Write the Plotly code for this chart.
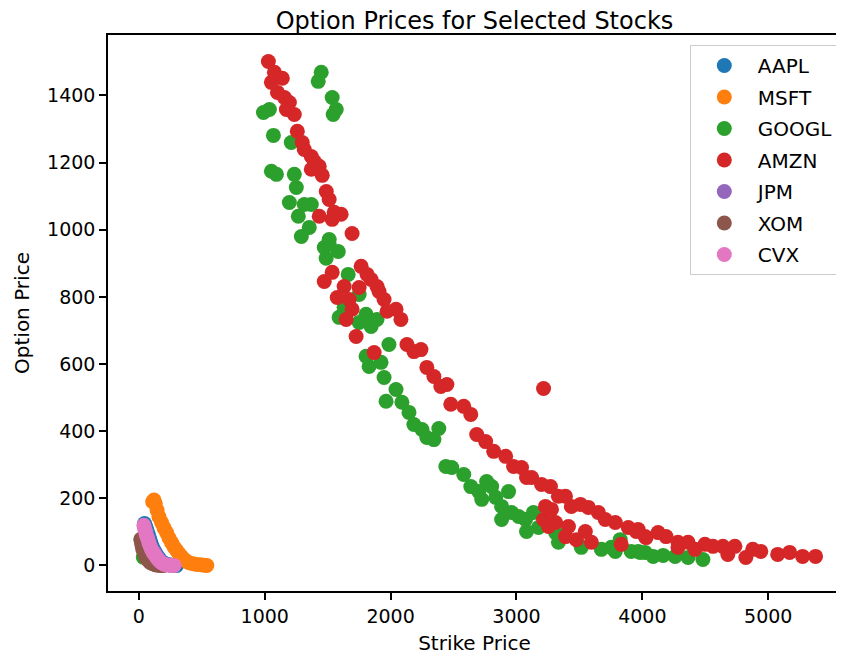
import plotly.graph_objects as go

# ---- data ----
aapl_strike = [45, 55, 65, 75, 85, 95, 105, 120, 135, 150, 165, 180, 200, 220, 240, 260, 280, 300]
aapl_price = [125, 115, 105, 92, 80, 68, 58, 46, 36, 27, 19, 12, 7, 4, 2, 1, 0, 0]

msft_strike = [110, 120, 130, 145, 160, 180, 200, 220, 240, 260, 280, 300, 320, 340, 360, 380, 400, 430, 460, 490, 520, 540]
msft_price = [190, 195, 185, 165, 145, 128, 112, 98, 82, 68, 55, 45, 35, 26, 18, 12, 8, 5, 3, 2, 1, 0]

googl_strike = [35, 990, 1037, 1069, 1053, 1093, 1211, 1235, 1251, 1196, 1314, 1370, 1267, 1354, 1291,
                1449, 1425, 1536, 1568, 1544, 1512, 1473, 1512, 1584, 1488, 1663, 1750, 1631, 1591,
                1805, 1750, 1892, 1845, 1987, 1805, 1924, 1829, 1948, 2043, 1964, 2090, 2146, 2185,
                2249, 2288, 2344, 2383, 2439, 2486, 2581, 2637, 2700, 2763, 2803, 2724, 2835, 2937,
                2882, 2961, 2882, 3017, 3072, 3080, 3135, 3175, 3310, 3333, 3515, 3674, 3785, 3824,
                3967, 4022, 3753, 3911, 3983, 4086, 4165, 4260, 4363, 4481]
googl_price = [25, 1349, 1358, 1281, 1174, 1165, 1260, 1165, 1126, 1081, 1075, 1075, 1040, 1007, 980,
               1469, 1442, 1394, 1358, 1343, 971, 947, 956, 935, 915, 867, 807, 769, 739,
               748, 724, 733, 712, 658, 623, 605, 593, 560, 524, 489, 486, 456, 420,
               405, 381, 375, 408, 295, 292, 271, 235, 220, 250, 235, 197, 203, 220,
               176, 158, 137, 146, 137, 101, 158, 113, 98, 69, 54, 48, 42, 77,
               42, 39, 54, 42, 39, 27, 30, 27, 24, 18]

amzn_strike = [1029, 1077, 1053, 1140, 1101, 1156, 1196, 1172, 1235, 1259, 1298, 1314, 1370, 1394, 1370,
               1433, 1457, 1489, 1512, 1433, 1552, 1607, 1536, 1694, 1473, 1536, 1766, 1813, 1845,
               1892, 1908, 1948, 1631, 1750, 1576, 1671, 1694, 1647, 1972, 2043, 2082, 1726, 1869,
               2130, 2185, 2241, 2288, 2344, 2399, 2447, 2478, 2581, 2637, 3215, 2684, 2755, 2819,
               2914, 2977, 3040, 3080, 3120, 3199, 3270, 3333, 3389, 3230, 3278, 3215, 3254, 3436,
               3508, 3571, 3650, 3705, 3785, 3888, 3967, 3310, 3413, 3389, 3476, 3547, 3595, 3832,
               4022, 3951, 4030, 4125, 4188, 4283, 4363, 4283, 4418, 4497, 4561, 4640, 4735, 4679,
               4822, 4877, 4941, 5075, 5170, 5273, 5376]
amzn_price = [1501, 1469, 1439, 1451, 1409, 1394, 1379, 1358, 1343, 1293, 1260, 1239, 1218, 1203, 1180,
              1189, 1162, 1114, 1090, 1040, 1052, 1046, 1031, 989, 846, 873, 891, 867, 852,
              831, 816, 792, 831, 828, 798, 792, 763, 733, 757, 763, 733, 682, 634,
              658, 637, 643, 590, 563, 533, 539, 480, 474, 450, 527, 390, 369, 340,
              325, 295, 292, 262, 262, 241, 235, 206, 206, 176, 167, 137, 116, 176,
              182, 173, 158, 137, 128, 113, 107, 128, 116, 86, 77, 101, 69, 63,
              86, 101, 83, 98, 86, 69, 69, 54, 48, 63, 57, 57, 57, 33,
              24, 48, 42, 33, 39, 27, 27]

jpm_strike = [120, 130, 140, 150, 160, 170, 180, 190, 200]
jpm_price = [40, 33, 26, 20, 15, 10, 6, 3, 1]

xom_strike = [15, 20, 25, 30, 40, 50, 60, 75, 90, 110, 130, 150, 170, 190]
xom_price = [78, 70, 60, 50, 40, 30, 22, 15, 9, 5, 2, 1, 0, 0]

cvx_strike = [40, 45, 55, 60, 70, 80, 90, 100, 115, 130, 145, 160, 180, 200, 220, 240, 260, 280]
cvx_price = [120, 110, 100, 90, 80, 68, 58, 48, 38, 30, 22, 15, 8, 4, 2, 1, 0, 0]

stocks = ["AAPL", "MSFT", "GOOGL", "AMZN", "JPM", "XOM", "CVX"]
strikes = [aapl_strike, msft_strike, googl_strike, amzn_strike, jpm_strike, xom_strike, cvx_strike]
prices = [aapl_price, msft_price, googl_price, amzn_price, jpm_price, xom_price, cvx_price]
colors = ["#1f77b4", "#ff7f0e", "#2ca02c", "#d62728", "#9467bd", "#8c564b", "#e377c2"]

x_ticks = [0, 1000, 2000, 3000, 4000, 5000]
y_ticks = [0, 200, 400, 600, 800, 1000, 1200, 1400]

FONT = "DejaVu Sans"
W, H = 836, 651  # page has an 8px body margin

fig = go.Figure()
for name, xs, ys, c in zip(stocks, strikes, prices, colors):
    fig.add_trace(go.Scatter(
        x=xs, y=ys, mode="markers", name=name, legendgroup=name,
        marker=dict(size=15, color=c, line=dict(width=0)),
    ))

axis_common = dict(
    showline=True, linecolor="black", linewidth=1.5, mirror=True,
    ticks="outside", ticklen=7, tickwidth=1.5, tickcolor="black",
    showgrid=False, zeroline=False,
    tickfont=dict(family=FONT, size=19, color="black"),
)

fig.update_layout(
    width=W, height=H,
    margin=dict(l=100, r=1, t=27, b=68),
    paper_bgcolor="white", plot_bgcolor="white",
    font=dict(family=FONT, color="black"),
    title=dict(text="Option Prices for Selected Stocks", x=0.5, xref="paper", xanchor="center",
               y=1 - 4 / H, yref="container", yanchor="top", pad=dict(t=0, b=0),
               font=dict(family=FONT, size=24, color="black")),
    xaxis=dict(range=[-245, 5578], tickvals=x_ticks, ticktext=[str(v) for v in x_ticks],
               title=dict(text="Strike Price", font=dict(family=FONT, size=20), standoff=10),
               **axis_common),
    yaxis=dict(range=[-76, 1580], tickvals=y_ticks, ticktext=[str(v) for v in y_ticks],
               title=dict(text="Option Price", font=dict(family=FONT, size=20), standoff=12),
               **axis_common),
    legend=dict(x=0.997, y=0.982, xanchor="right", yanchor="top",
                bordercolor="#cccccc", borderwidth=1, bgcolor="rgba(255,255,255,0.8)",
                font=dict(family=FONT, size=20, color="black"),
                tracegroupgap=2.5, itemwidth=57),
    showlegend=True,
)

fig.write_html("out.html")
